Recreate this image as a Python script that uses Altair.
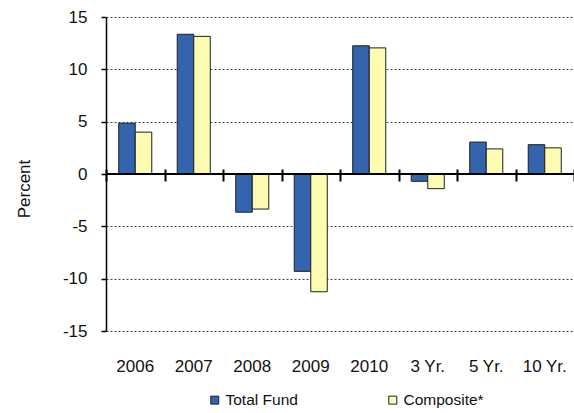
import altair as alt
import pandas as pd

categories = ["2006", "2007", "2008", "2009", "2010", "3 Yr.", "5 Yr.", "10 Yr."]
total_fund = [4.85, 13.35, -3.65, -9.3, 12.25, -0.7, 3.05, 2.8]
composite = [4.0, 13.15, -3.35, -11.25, 12.05, -1.4, 2.4, 2.5]
series = ["Total Fund", "Composite*"]
colors = ["#3364ad", "#fdfcb2"]
y_ticks = [-15, -10, -5, 0, 5, 10, 15]

rows = []
for c, t, m in zip(categories, total_fund, composite):
    rows.append({"cat": c, "series": series[0], "value": t})
    rows.append({"cat": c, "series": series[1], "value": m})
df = pd.DataFrame(rows)
zero_df = pd.DataFrame({"z": [0]})

xscale = alt.Scale(domain=categories, paddingInner=0, paddingOuter=0)
yscale = alt.Scale(domain=[-15, 15], nice=False)

bars = alt.Chart(df).mark_bar(stroke="#1f1f1f", strokeWidth=1).encode(
    x=alt.X("cat:N", sort=categories, scale=xscale,
            axis=alt.Axis(title=None, orient="bottom", labelAngle=0, domain=False,
                          ticks=False, tickSize=0, labelPadding=27, labelFontSize=17,
                          labelColor="#111", grid=False)),
    xOffset=alt.XOffset("series:N", sort=series,
                        scale=alt.Scale(domain=series, paddingOuter=0.77, paddingInner=0)),
    y=alt.Y("value:Q", scale=yscale,
            axis=alt.Axis(values=y_ticks, title="Percent", grid=True, gridDash=[2, 2],
                          gridColor="#444", gridWidth=1, domainColor="black", domainWidth=1.5,
                          tickColor="black", tickSize=5, tickWidth=1.5, labelFontSize=17,
                          labelColor="#111", labelPadding=14, labelExpr="'' + datum.value",
                          titleFontSize=17,
                          titleFontWeight="normal", titleColor="#111", titleX=-81.5,
                          titleY=171.5, titleAlign="center", titleBaseline="middle",
                          titleAngle=270)),
    color=alt.Color("series:N", sort=series,
                    scale=alt.Scale(domain=series, range=colors),
                    legend=alt.Legend(orient="none", legendX=101, legendY=375,
                                      direction="horizontal", title=None,
                                      symbolType="square", symbolSize=64,
                                      labelFontSize=15.5, labelColor="#111",
                                      columnPadding=87, labelOffset=3,
                                      symbolStrokeColor="#222", symbolStrokeWidth=1,
                                      padding=0)),
)

zero = alt.Chart(zero_df).mark_rule(color="black", strokeWidth=2).encode(
    y=alt.Y("z:Q", scale=yscale)
)

ticks = alt.Chart(df).mark_bar(opacity=0).encode(
    x=alt.X("cat:N", sort=categories, scale=xscale,
            axis=alt.Axis(title=None, orient="top", labels=False, domain=False,
                          ticks=True, tickBand="extent", tickSize=12, tickWidth=2,
                          tickColor="black", offset=-164, grid=False, zindex=2))
)

chart = alt.layer(bars, zero, ticks).resolve_axis(x="independent").properties(
    width=468, height=314,
    autosize=alt.AutoSizeParams(type="none"),
    padding={"left": 106, "top": 17, "right": 0, "bottom": 78},
).configure(font="Liberation Sans").configure_view(strokeWidth=0)

chart.save("out.html", embed_options={"renderer": "svg", "actions": False})
